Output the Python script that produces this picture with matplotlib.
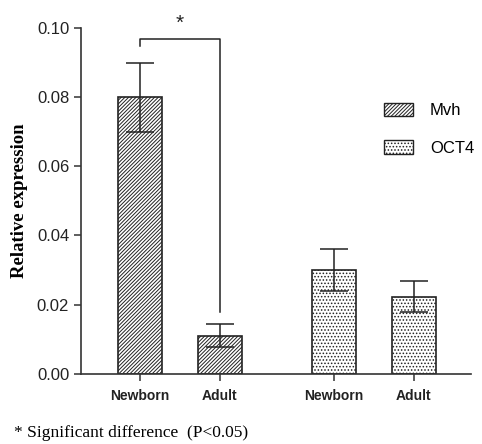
import matplotlib
matplotlib.use("Agg")
import matplotlib.pyplot as plt
from matplotlib.patches import Patch

categories = ["Newborn", "Adult", "Newborn", "Adult"]
genes = ["Mvh", "OCT4"]
mvh_values = [0.080, 0.011]
mvh_err = [0.010, 0.0033]
oct4_values = [0.030, 0.0223]
oct4_err = [0.006, 0.0045]
yticks = [0.00, 0.02, 0.04, 0.06, 0.08, 0.10]

plt.rcParams['hatch.linewidth'] = 0.7
fig = plt.figure(figsize=(4.82, 4.44), dpi=100)
ax = fig.add_axes([0.168, 0.158, 0.809, 0.779])

pos_mvh = [0, 1]
pos_oct = [2.425, 3.425]
w = 0.54
H1 = "/////////"
H2 = "....."
ax.bar(pos_mvh, mvh_values, width=w, facecolor="white", edgecolor="#222222",
       hatch=H1, linewidth=1.2, zorder=2)
ax.bar(pos_oct, oct4_values, width=w, facecolor="white", edgecolor="#222222",
       hatch=H2, linewidth=1.2, zorder=2)
ax.errorbar(pos_mvh, mvh_values, yerr=mvh_err, fmt="none", ecolor="#222222",
            elinewidth=1.1, capsize=10, capthick=1.1, zorder=3)
ax.errorbar(pos_oct, oct4_values, yerr=oct4_err, fmt="none", ecolor="#222222",
            elinewidth=1.1, capsize=10, capthick=1.1, zorder=3)

# significance bracket
ax.plot([pos_mvh[0], pos_mvh[0], pos_mvh[1], pos_mvh[1]],
        [0.0948, 0.0968, 0.0968, 0.018], color="#222222", lw=1.1,
        clip_on=False)
ax.text((pos_mvh[0] + pos_mvh[1]) / 2, 0.0985, "*", ha="center", va="bottom",
        fontsize=15, family="Liberation Sans", color="#222222")

ax.set_xlim(-0.7375, 4.1375)
ax.set_ylim(0, 0.10)
ax.set_yticks(yticks)
ax.set_yticklabels([f"{t:.2f}" for t in yticks], family="Liberation Sans",
                   fontsize=12, color="#222222")
ax.set_xticks(pos_mvh + pos_oct)
ax.set_xticklabels(categories, family="Liberation Sans", fontweight="bold",
                   fontsize=10, color="#222222")
ax.spines["top"].set_visible(False)
ax.spines["right"].set_visible(False)
for s in ["left", "bottom"]:
    ax.spines[s].set_linewidth(1.2)
    ax.spines[s].set_color("#333333")
ax.tick_params(axis="both", length=5, width=1.1, color="#333333")
ax.tick_params(axis="x", pad=6)
ax.set_ylabel("Relative expression", family="Liberation Serif",
              fontweight="bold", fontsize=13.5, labelpad=6)

handles = [Patch(facecolor="white", edgecolor="#222222", hatch=H1, label=genes[0]),
           Patch(facecolor="white", edgecolor="#222222", hatch=H2, label=genes[1])]
fig.legend(handles=handles, loc="center left",
           bbox_to_anchor=(384 / 482, 1 - 129 / 444),
           frameon=False, prop={"family": "Liberation Sans", "size": 12},
           handlelength=1.75, handleheight=0.9, labelspacing=1.3,
           handletextpad=1.0, borderpad=0, borderaxespad=0)

fig.text(14 / 482, 1 - 433 / 444, "* Significant difference  (P<0.05)",
         family="Liberation Serif", fontsize=12.5, va="center", ha="left")

fig.savefig("out.png", dpi=100)
